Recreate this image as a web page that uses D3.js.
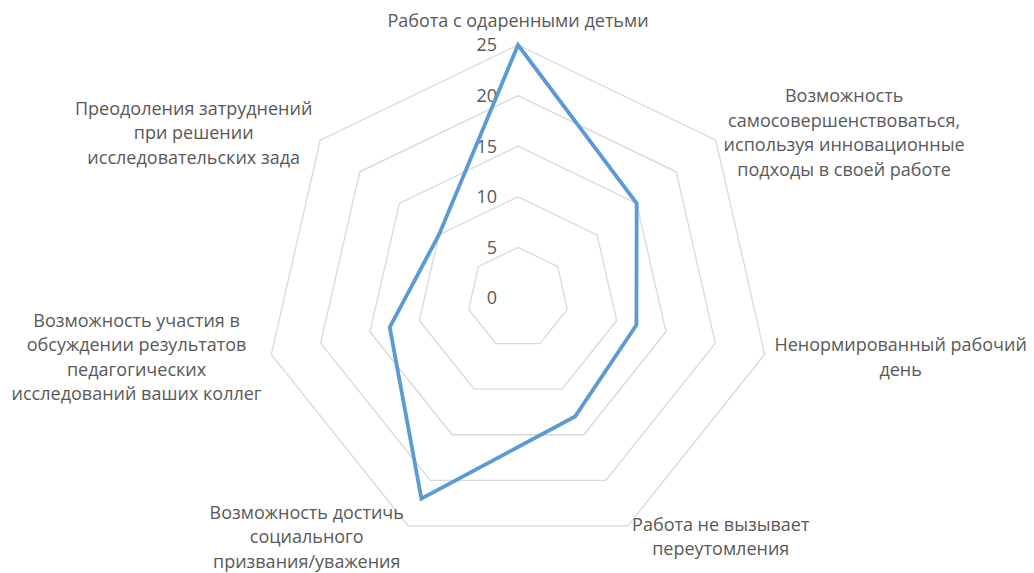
<!DOCTYPE html>
<html>
<head>
<meta charset="utf-8">
<script src="https://cdn.jsdelivr.net/npm/d3@7"></script>
<style>
  html, body { margin: 0; padding: 0; background: #fff; }
  svg text { font-family: "Open Sans", "Noto Sans", sans-serif; fill: #595959; }
</style>
</head>
<body>
<svg id="chart" width="1034" height="573"></svg>
<script>
const categories = [
  "Работа с одаренными детьми",
  "Возможность\nсамосовершенствоваться,\nиспользуя инновационные\nподходы в своей работе",
  "Ненормированный рабочий\nдень",
  "Работа не вызывает\nпереутомления",
  "Возможность достичь\nсоциального\nпризвания/уважения",
  "Возможность участия в\nобсуждении результатов\nпедагогических\nисследований ваших коллег",
  "Преодоления затруднений\nпри решении\nисследовательских зада"
];
const values = [25, 15, 12, 13, 22, 13, 10];
const tickValues = [0, 5, 10, 15, 20, 25];

const svg = d3.select("#chart");
const cx = 518, cy = 298, R = 253;
const fontSize = 18, tickFont = 18, lineH = 24.5;

const r = d3.scaleLinear().domain([0, 25]).range([0, R]);
const angle = d3.scalePoint().domain(d3.range(categories.length)).range([0, 2 * Math.PI * (categories.length - 1) / categories.length]);

const g = svg.append("g").attr("transform", `translate(${cx},${cy})`);

const radial = d3.lineRadial().angle((d, i) => angle(i)).radius(d => r(d)).curve(d3.curveLinearClosed);

// grid rings
tickValues.filter(t => t > 0).forEach(t => {
  g.append("path")
    .attr("d", radial(categories.map(() => t)))
    .attr("fill", "none")
    .attr("stroke", "#d9d9d9")
    .attr("stroke-width", 1.3);
});

// tick labels
g.selectAll("text.tick").data(tickValues).join("text")
  .attr("class", "tick")
  .attr("x", -21)
  .attr("y", d => -r(d))
  .attr("dy", "0.35em")
  .attr("text-anchor", "end")
  .style("font-size", tickFont + "px")
  .text(d => d);

// series
g.append("path")
  .attr("d", radial(values))
  .attr("fill", "none")
  .attr("stroke", "#5b9bd5")
  .attr("stroke-width", 3.8)
  .attr("stroke-linejoin", "miter");

// category labels
categories.forEach((c, i) => {
  const a = angle(i);
  const s = Math.sin(a), co = Math.cos(a);
  const px = s * (R + 10), py = -co * (R + 12);
  const lines = c.split("\n");
  const t = g.append("text").style("font-size", fontSize + "px").attr("text-anchor", "middle");
  const spans = lines.map((ln, k) => t.append("tspan").text(ln));
  const maxW = d3.max(spans, sp => sp.node().getComputedTextLength());
  let centerX;
  if (s > 0.1) centerX = px + maxW / 2;
  else if (s < -0.1) centerX = px - maxW / 2;
  else centerX = px;
  const blockH = lines.length * lineH;
  let top;
  if (co > 0.9) top = py - blockH;
  else top = py - blockH / 2;
  spans.forEach((sp, k) => {
    sp.attr("x", centerX).attr("y", top + lineH * (k + 0.5)).attr("dy", "0.35em");
  });
});
</script>
</body>
</html>
